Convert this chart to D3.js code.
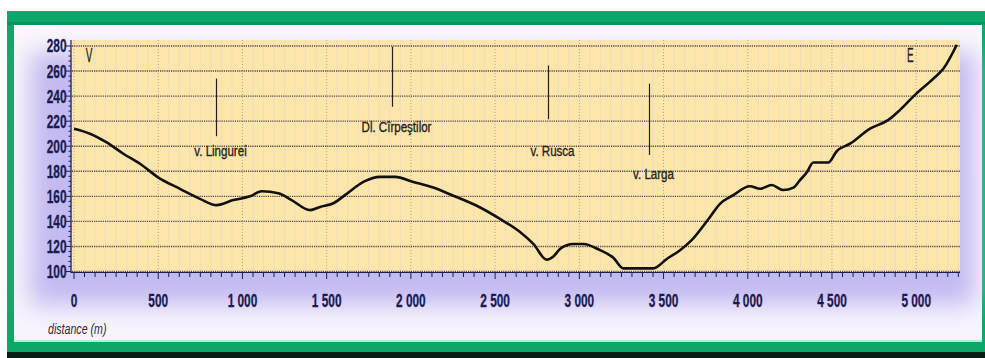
<!DOCTYPE html>
<html>
<head>
<meta charset="utf-8">
<script src="https://cdn.jsdelivr.net/npm/d3@7"></script>
<style>
  html, body { margin: 0; padding: 0; background: #ffffff; }
  svg { display: block; }
  text { font-family: "Liberation Sans", Arial, sans-serif; }
</style>
</head>
<body>
<svg id="chart" width="985" height="358"></svg>
<script>
// ---- data ----
const distance = [0, 95, 194, 293, 392, 501, 629, 748, 847, 946, 1045, 1114, 1213, 1292, 1401, 1461, 1540, 1619, 1718, 1817, 1906, 2015, 2133, 2252, 2391, 2529, 2648, 2727, 2806, 2846, 2885, 2925, 2964, 3024, 3123, 3202, 3261, 3439, 3519, 3598, 3667, 3776, 3835, 3914, 4013, 4073, 4142, 4211, 4271, 4310, 4350, 4389, 4478, 4528, 4607, 4726, 4835, 4904, 4993, 5102, 5162, 5241];
const elevation = [214, 210, 203, 194, 186, 175, 166, 158, 153, 157, 160, 164, 162.5, 157, 149, 151.5, 154.5, 162, 171.5, 175.5, 175.5, 171.5, 167, 160.5, 152.5, 142, 131.5, 122, 109.5, 112, 118, 121, 122, 122, 117, 111, 102.5, 102.5, 110, 117, 125, 143.5, 154, 161, 168, 166, 169, 165, 167, 173, 179, 187, 187, 196, 202, 214, 221, 229, 241, 254, 262, 281];

const yTickValues = [100, 120, 140, 160, 180, 200, 220, 240, 260, 280];
const xTickValues = [0, 500, 1000, 1500, 2000, 2500, 3000, 3500, 4000, 4500, 5000];
const xTickLabels = ["0", "500", "1 000", "1 500", "2 000", "2 500", "3 000", "3 500", "4 000", "4 500", "5 000"];

const landmarkNames = ["v. Lingurei", "Dl. Cîrpeştilor", "v. Rusca", "v. Larga"];
const landmarkDistance = [843, 1890, 2816, 3414];
const landmarkTopElev = [254, 279.5, 264.5, 250];
const landmarkBottomElev = [208, 231.5, 221.5, 193];
const landmarkTextElev = [192.5, 211.5, 192.5, 173.5];

const endLabels = ["V", "E"];
const endLabelDistance = [90, 4965];
const xAxisTitle = "distance (m)";

// ---- layout ----
const W = 985, H = 358;
const svg = d3.select("#chart");
const x = d3.scaleLinear().domain([0, 5254]).range([74, 959]);
const y = d3.scaleLinear().domain([100, 280]).range([271.5, 46]);

// condensed text helper (horizontal squeeze to mimic a condensed face)
function ctext(parent, tx, ty, str, o) {
  const g = parent.append("g").attr("transform", `translate(${tx},${ty}) scale(${o.sx || 0.75},1)`);
  const t = g.append("text").attr("x", 0).attr("y", 0)
    .attr("text-anchor", o.anchor || "start")
    .attr("dy", o.dy || 0)
    .attr("font-size", o.size || 14)
    .attr("font-weight", o.weight || "normal")
    .attr("font-style", o.style || "normal")
    .attr("fill", o.fill || "#222")
    .text(str);
  if (o.stroke) t.attr("stroke", o.fill || "#222").attr("stroke-width", o.stroke);
  return t;
}

const defs = svg.append("defs");
const blur = defs.append("filter").attr("id", "glow").attr("x", "-20%").attr("y", "-40%").attr("width", "140%").attr("height", "180%");
blur.append("feGaussianBlur").attr("stdDeviation", 12);

const panelGrad = defs.append("linearGradient").attr("id", "panelGrad").attr("x1", 0).attr("y1", 0).attr("x2", 0).attr("y2", 1);
panelGrad.append("stop").attr("offset", "0%").attr("stop-color", "#fcf7fb");
panelGrad.append("stop").attr("offset", "100%").attr("stop-color", "#f8f3fd");

// frame
svg.append("rect").attr("x", 0).attr("y", 0).attr("width", W).attr("height", H).attr("fill", "#ffffff");
svg.append("rect").attr("x", 7).attr("y", 11).attr("width", W - 7).attr("height", 341).attr("fill", "#0ba86a");
svg.append("rect").attr("x", 7).attr("y", 352).attr("width", W - 7).attr("height", 6).attr("fill", "#0a1d12");
svg.append("rect").attr("x", 7).attr("y", 22).attr("width", W - 7).attr("height", 3).attr("fill", "#08955d");
svg.append("rect").attr("x", 14).attr("y", 25).attr("width", 968).attr("height", 317).attr("fill", "url(#panelGrad)");
svg.append("rect").attr("x", 14).attr("y", 340).attr("width", 968).attr("height", 2).attr("fill", "#bfe9d4");

// lavender glow around plot
svg.append("rect").attr("x", 30).attr("y", 52).attr("width", 945).attr("height", 253)
  .attr("fill", "#c2baf1").attr("filter", "url(#glow)");

// plot background
const plotX0 = 72, plotX1 = 960, plotY0 = 40, plotY1 = 272;
svg.append("rect").attr("x", plotX0).attr("y", plotY0).attr("width", plotX1 - plotX0).attr("height", plotY1 - plotY0)
  .attr("fill", "#fde6a9");

// vertical minor grid
const minorX = d3.range(0, 5254, 62.5);
svg.append("g").selectAll("line").data(minorX.filter(d => d % 500 !== 0)).join("line")
  .attr("x1", d => x(d)).attr("x2", d => x(d)).attr("y1", plotY0).attr("y2", plotY1)
  .attr("stroke", "#efdcc4").attr("stroke-width", 1);
// vertical major grid
svg.append("g").selectAll("line").data(xTickValues).join("line")
  .attr("x1", d => x(d)).attr("x2", d => x(d)).attr("y1", plotY0).attr("y2", plotY1)
  .attr("stroke", "#b79fb6").attr("stroke-width", 1).attr("stroke-dasharray", "1,2");
// horizontal major grid
svg.append("g").selectAll("line").data(yTickValues).join("line")
  .attr("x1", plotX0).attr("x2", plotX1).attr("y1", d => y(d)).attr("y2", d => y(d))
  .attr("stroke", "#5b4152").attr("stroke-width", 1.4).attr("stroke-dasharray", "1.2,1");

// axes
const axisColor = "#1d1d58";
const yAxis = svg.append("g");
yAxis.append("line").attr("x1", 71).attr("x2", 71).attr("y1", plotY0).attr("y2", plotY1 + 1).attr("stroke", axisColor).attr("stroke-width", 1.2);
yAxis.selectAll("line.minor").data(d3.range(100, 281, 4)).join("line").attr("class", "minor")
  .attr("x1", d => d % 20 === 0 ? 66 : 68.5).attr("x2", 71).attr("y1", d => y(d)).attr("y2", d => y(d))
  .attr("stroke", axisColor).attr("stroke-width", 1);
yTickValues.forEach(v => {
  ctext(yAxis, 66.5, y(v), String(v), { sx: 0.66, size: 18, weight: "bold", anchor: "end", dy: "0.36em", fill: "#1a1a52", stroke: 0.3 });
});

const xAxis = svg.append("g");
xAxis.append("line").attr("x1", 71).attr("x2", plotX1).attr("y1", 272.5).attr("y2", 272.5).attr("stroke", axisColor).attr("stroke-width", 1.2);
xAxis.selectAll("line.minor").data(minorX).join("line").attr("class", "minor")
  .attr("x1", d => x(d)).attr("x2", d => x(d)).attr("y1", 272.5).attr("y2", d => d % 500 === 0 ? 279 : 277)
  .attr("stroke", axisColor).attr("stroke-width", 1);
xTickValues.forEach((v, i) => {
  ctext(xAxis, x(v), 306.5, xTickLabels[i], { sx: 0.64, size: 18.5, weight: "bold", anchor: "middle", fill: "#1a1a52", stroke: 0.3 });
});

ctext(svg, 48, 334, xAxisTitle, { sx: 0.76, size: 14, style: "italic", fill: "#2a2a3a" });

// profile line
const pts = distance.map((d, i) => [d, elevation[i]]);
svg.append("path").datum(pts)
  .attr("d", d3.line().x(d => x(d[0])).y(d => y(d[1])).curve(d3.curveMonotoneX))
  .attr("fill", "none").attr("stroke", "#111").attr("stroke-width", 2.6).attr("stroke-linejoin", "round");

// landmarks
const lm = svg.append("g");
landmarkNames.forEach((name, i) => {
  const lx = Math.round(x(landmarkDistance[i])) + 0.5;
  lm.append("line").attr("x1", lx).attr("x2", lx)
    .attr("y1", y(landmarkTopElev[i])).attr("y2", y(landmarkBottomElev[i]))
    .attr("stroke", "#222").attr("stroke-width", 1.2);
  ctext(lm, lx + 4, y(landmarkTextElev[i]), name, { sx: 0.77, size: 15, anchor: "middle", fill: "#222", stroke: 0.35 });
});

// V / E
endLabels.forEach((t, i) => {
  ctext(svg, x(endLabelDistance[i]), y(267), t, { sx: 0.5, size: 20, anchor: "middle", fill: "#222", stroke: 0.3 });
});
</script>
</body>
</html>
